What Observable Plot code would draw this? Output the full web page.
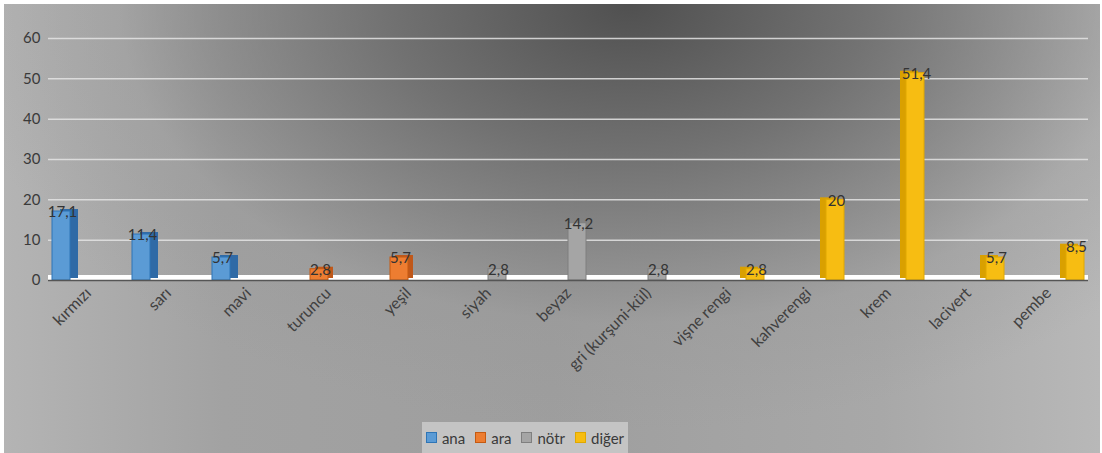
<!DOCTYPE html>
<html>
<head>
<meta charset="utf-8">
<script src="https://cdn.jsdelivr.net/npm/d3@7"></script>
<script src="https://cdn.jsdelivr.net/npm/@observablehq/plot@0.6"></script>
<style>
  html, body { margin: 0; padding: 0; background: #ffffff; }
  body { width: 1102px; height: 453px; position: relative; overflow: hidden; font-family: Lato, "Open Sans", sans-serif; }
  #frame {
    position: absolute; left: 4px; top: 4px; width: 1096px; height: 449px;
    background:
      radial-gradient(ellipse 62% 95% at 57% 0%, rgba(80,80,80,1) 0%, rgba(105,105,105,0.85) 35%, rgba(150,150,150,0.35) 75%, rgba(170,170,170,0) 100%),
      linear-gradient(90deg, #b4b4b4 0%, #a2a2a2 20%, #9e9e9e 50%, #a8a8a8 80%, #b8b8b8 100%);
  }
  #chart { position: absolute; left: 0; top: 0; }
  #chart svg text { font-size: 15px !important; }
  #chart svg [aria-label^="y-axis"] text { font-size: 15px !important; fill: #3a3a3a; }
  #chart svg [aria-label^="fx-axis"] text { font-size: 16px !important; fill: #404040; }
  #legend {
    position: absolute; left: 422px; top: 422px; width: 206px; height: 31px;
    background: #c4c4c4; display: flex; align-items: center; justify-content: center; gap: 10px;
    font-size: 15px; color: #3a3a3a;
  }
  .item { display: flex; align-items: center; gap: 5px; }
  .sw { width: 9px; height: 9px; border: 1px solid; }
</style>
</head>
<body>
<div id="frame"></div>
<div id="chart"></div>
<div id="legend"></div>
<script>
const categories = ["kırmızı", "sarı", "mavi", "turuncu", "yeşil", "siyah", "beyaz", "gri (kurşuni-kül)", "vişne rengi", "kahverengi", "krem", "lacivert", "pembe"];
const groups = ["ana", "ana", "ana", "ara", "ara", "nötr", "nötr", "nötr", "diğer", "diğer", "diğer", "diğer", "diğer"];
const values = [17.1, 11.4, 5.7, 2.8, 5.7, 2.8, 14.2, 2.8, 2.8, 20, 51.4, 5.7, 8.5];
const series = ["ana", "ara", "nötr", "diğer"];
const frontColors = ["#5b9bd5", "#ed7d31", "#a5a5a5", "#f7bd12"];
const sideColors = ["#2f6aa6", "#c0581a", "#8a8a8a", "#d9a000"];
const strokeColors = ["#2e75b6", "#c55a11", "#7f7f7f", "#e0a800"];
const sideShift = [8, 5, 0, -6];
const yTicks = [0, 10, 20, 30, 40, 50, 60];

const data = categories.map((c, i) => ({category: c, series: groups[i], value: values[i]}));
const fmt = v => String(v).replace(".", ",");

const barMarks = [];
series.forEach((s, i) => {
  if (sideShift[i] !== 0) {
    barMarks.push(Plot.barY(data, {
      filter: d => d.series === s, fx: "category", x: "series", y: "value",
      fill: sideColors[i], dx: sideShift[i], dy: -2
    }));
  }
});
series.forEach((s, i) => {
  barMarks.push(Plot.barY(data, {
    filter: d => d.series === s, fx: "category", x: "series", y: "value",
    fill: frontColors[i], stroke: strokeColors[i], strokeWidth: 1
  }));
});

const plot = Plot.plot({
  width: 1102,
  height: 415,
  marginLeft: 47,
  marginRight: 14,
  marginTop: 38,
  marginBottom: 135,
  style: {background: "transparent", fontFamily: "Lato, 'Open Sans', sans-serif", fontSize: "14px", color: "#3a3a3a"},
  fx: {domain: categories, padding: 0, label: null, axis: "bottom", tickRotate: -45, tickSize: 0, tickPadding: 10},
  x: {domain: series, axis: null, paddingInner: 0, paddingOuter: 0.15},
  y: {domain: [0, 60], ticks: yTicks, label: null, tickSize: 0, tickPadding: 8},
  marks: [
    Plot.ruleY(yTicks.filter(t => t > 0), {stroke: "#e4e4e4", strokeOpacity: 0.85, strokeWidth: 1.5}),
    Plot.ruleY([0], {stroke: "#ffffff", strokeWidth: 5, dy: -3}),
    ...barMarks,
    Plot.ruleY([0], {stroke: "#555555", strokeWidth: 1.5}),
    Plot.text(data, {fx: "category", x: "series", y: "value", text: d => fmt(d.value), fill: "#333333", fontSize: 15, dy: 1, dx: 1})
  ]
});
document.getElementById("chart").appendChild(plot);

const legend = document.getElementById("legend");
series.forEach((s, i) => {
  const item = document.createElement("div");
  item.className = "item";
  const sw = document.createElement("span");
  sw.className = "sw";
  sw.style.background = frontColors[i];
  sw.style.borderColor = strokeColors[i];
  const label = document.createElement("span");
  label.textContent = s;
  item.appendChild(sw);
  item.appendChild(label);
  legend.appendChild(item);
});
</script>
</body>
</html>
